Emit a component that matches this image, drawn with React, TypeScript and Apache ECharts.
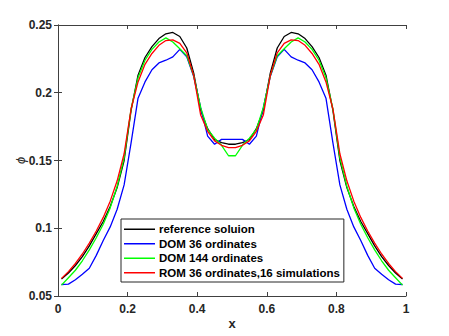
import React, { useEffect, useRef } from "react";
import * as echarts from "echarts";

const xValues = [
  0.01, 0.03, 0.05, 0.07, 0.09, 0.11, 0.13, 0.15, 0.17, 0.19,
  0.21, 0.23, 0.25, 0.27, 0.29, 0.31, 0.33, 0.35, 0.37, 0.39,
  0.41, 0.43, 0.45, 0.47, 0.49, 0.51, 0.53, 0.55, 0.57, 0.59,
  0.61, 0.63, 0.65, 0.67, 0.69, 0.71, 0.73, 0.75, 0.77, 0.79,
  0.81, 0.83, 0.85, 0.87, 0.89, 0.91, 0.93, 0.95, 0.97, 0.99,
];

const referenceSolution = [
  0.0625, 0.067, 0.0725, 0.079, 0.087, 0.096, 0.105, 0.116, 0.13, 0.15,
  0.187, 0.213, 0.226, 0.234, 0.24, 0.2435, 0.2445, 0.2415, 0.233, 0.2145,
  0.187, 0.1735, 0.1655, 0.1632, 0.162, 0.162, 0.1632, 0.1655, 0.1735, 0.187,
  0.2145, 0.233, 0.2415, 0.2445, 0.2435, 0.24, 0.234, 0.226, 0.213, 0.187,
  0.15, 0.13, 0.116, 0.105, 0.096, 0.087, 0.079, 0.0725, 0.067, 0.0625,
];

const dom36 = [
  0.0585, 0.0588, 0.062, 0.066, 0.0705, 0.08, 0.091, 0.101, 0.114, 0.132,
  0.163, 0.196, 0.208, 0.217, 0.222, 0.224, 0.2265, 0.232, 0.2265, 0.212,
  0.189, 0.168, 0.162, 0.1656, 0.1656, 0.1656, 0.1656, 0.162, 0.168, 0.189,
  0.212, 0.2265, 0.232, 0.2265, 0.224, 0.222, 0.217, 0.208, 0.196, 0.163,
  0.132, 0.114, 0.101, 0.091, 0.08, 0.0705, 0.066, 0.062, 0.0588, 0.0585,
];

const dom144 = [
  0.058, 0.0635, 0.069, 0.076, 0.084, 0.093, 0.103, 0.115, 0.131, 0.152,
  0.188, 0.211, 0.224, 0.232, 0.2375, 0.2405, 0.2375, 0.2325, 0.2273, 0.2125,
  0.189, 0.173, 0.1665, 0.1612, 0.1535, 0.1535, 0.1612, 0.1665, 0.173, 0.189,
  0.2125, 0.2273, 0.2325, 0.2375, 0.2405, 0.2375, 0.232, 0.224, 0.211, 0.188,
  0.152, 0.131, 0.115, 0.103, 0.093, 0.084, 0.076, 0.069, 0.0635, 0.058,
];

const rom36 = [
  0.063, 0.068, 0.074, 0.081, 0.089, 0.098, 0.108, 0.12, 0.135, 0.155,
  0.188, 0.208, 0.221, 0.229, 0.235, 0.2385, 0.239, 0.2365, 0.2295, 0.2126,
  0.1835, 0.1715, 0.1645, 0.1612, 0.1595, 0.1595, 0.1612, 0.1645, 0.1715, 0.1835,
  0.2126, 0.2295, 0.2365, 0.239, 0.2385, 0.235, 0.229, 0.221, 0.208, 0.188,
  0.155, 0.135, 0.12, 0.108, 0.098, 0.089, 0.081, 0.074, 0.068, 0.063,
];

const seriesNames = [
  "reference soluion",
  "DOM 36 ordinates",
  "DOM 144 ordinates",
  "ROM 36 ordinates,16 simulations",
];
const seriesColors = ["#000000", "#0000ff", "#00ff00", "#ff0000"];
const seriesValues = [referenceSolution, dom36, dom144, rom36];

const FONT = "'Liberation Sans', Arial, Helvetica, sans-serif";
const AXIS_COLOR = "#404040";
const TEXT_COLOR = "#262626";

export default function App() {
  const ref = useRef<HTMLDivElement>(null);

  useEffect(() => {
    if (!ref.current) return;
    const chart = echarts.init(ref.current, undefined, { renderer: "svg" });

    const axisLine = { show: true, lineStyle: { color: AXIS_COLOR, width: 1 } };
    const axisTick = { show: true, inside: true, length: 4, lineStyle: { color: AXIS_COLOR } };
    const axisLabel = {
      color: TEXT_COLOR,
      fontFamily: FONT,
      fontWeight: "bold" as const,
      fontSize: 12,
      margin: 6,
    };

    chart.setOption({
      animation: false,
      backgroundColor: "#ffffff",
      grid: { left: 58, right: 43, top: 25, bottom: 40, containLabel: false },
      xAxis: [
        {
          type: "value",
          min: 0,
          max: 1,
          interval: 0.2,
          position: "bottom",
          axisLine,
          axisTick,
          splitLine: { show: false },
          axisLabel: { ...axisLabel, margin: 7, formatter: (v: number) => String(+v.toFixed(2)) },
          name: "x",
          nameLocation: "middle",
          nameGap: 21,
          nameMoveOverlap: false,
          nameTextStyle: { color: TEXT_COLOR, fontFamily: FONT, fontWeight: "bold", fontSize: 13 },
        },
        {
          type: "value",
          min: 0,
          max: 1,
          interval: 0.2,
          position: "top",
          axisLine,
          axisTick,
          splitLine: { show: false },
          axisLabel: { show: false },
        },
      ],
      yAxis: [
        {
          type: "value",
          min: 0.05,
          max: 0.25,
          interval: 0.05,
          position: "left",
          axisLine,
          axisTick,
          splitLine: { show: false },
          axisLabel: { ...axisLabel, formatter: (v: number) => String(+v.toFixed(2)) },
          name: "ϕ",
          nameLocation: "middle",
          nameGap: 31,
          nameRotate: 90,
          nameMoveOverlap: false,
          nameTextStyle: { color: TEXT_COLOR, fontFamily: FONT, fontStyle: "italic", fontSize: 13 },
        },
        {
          type: "value",
          min: 0.05,
          max: 0.25,
          interval: 0.05,
          position: "right",
          axisLine,
          axisTick,
          splitLine: { show: false },
          axisLabel: { show: false },
        },
      ],
      legend: {
        orient: "vertical",
        left: 121,
        top: 219,
        padding: [3, 4, 2, 3],
        icon: "rect",
        itemWidth: 31,
        itemHeight: 1.5,
        itemGap: 0,
        backgroundColor: "#ffffff",
        borderColor: "#262626",
        borderWidth: 1,
        borderRadius: 0,
        data: seriesNames,
        textStyle: {
          color: "#000000",
          fontFamily: FONT,
          fontWeight: "bold",
          fontSize: 11.5,
          lineHeight: 14.5,
          padding: [0, 0, 0, -1],
        },
      },
      series: seriesNames.map((name, i) => ({
        name,
        type: "line",
        xAxisIndex: 0,
        yAxisIndex: 0,
        symbol: "none",
        color: seriesColors[i],
        lineStyle: { color: seriesColors[i], width: 1.3 },
        data: xValues.map((x, j) => [x, seriesValues[i][j]]),
        z: 2 + i,
      })),
    });

    return () => chart.dispose();
  }, []);

  return (
    <div
      ref={ref}
      style={{ position: "fixed", left: 0, top: 0, width: 449, height: 336 }}
    />
  );
}
